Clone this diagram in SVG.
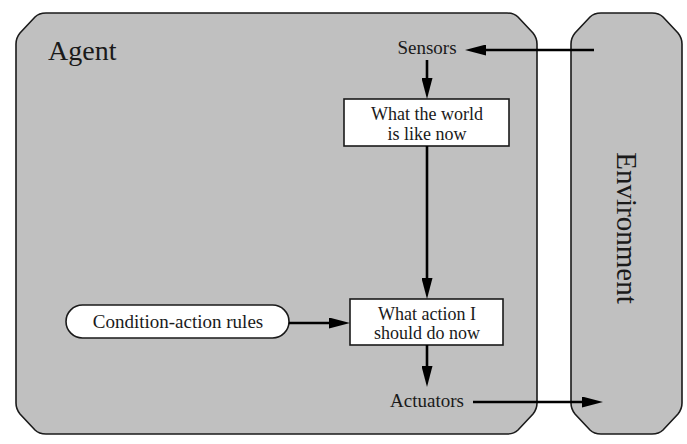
<svg xmlns="http://www.w3.org/2000/svg" width="687" height="444" viewBox="0 0 687 444">
<style>
.panel{fill:#c0c0c0;stroke:#1a1a1a;stroke-width:1.6}
.box{fill:#ffffff;stroke:#1a1a1a;stroke-width:1.6}
.t{font-family:"Liberation Serif","Times New Roman",serif;font-size:18px;fill:#1a1a1a;text-anchor:middle}
.big{font-family:"Liberation Serif","Times New Roman",serif;font-size:28px;fill:#1a1a1a}
.conn{stroke:#000;stroke-width:2.6;fill:none;marker-end:url(#ah)}
</style>
<defs>
<marker id="ah" markerUnits="userSpaceOnUse" markerWidth="21" markerHeight="11" viewBox="0 0 21 11" refX="0" refY="5.5" orient="auto">
<path d="M0,0 L21,5.5 L0,11 z" fill="#000"/>
</marker>
</defs>
<rect width="687" height="444" fill="#ffffff"/>
<g id="agent">
<path class="panel" d="M16,44 Q16,38 20,33 L35,17 Q39,13 46,13 L507,13 Q514,13 518,17 L533,33 Q537,38 537,44 L537,403 Q537,409 533,414 L518,430 Q514,434 507,434 L46,434 Q39,434 35,430 L20,414 Q16,409 16,403 Z"/>
<text class="big" x="48" y="60">Agent</text>
</g>
<g id="environment">
<path class="panel" d="M571,44 Q571,38 575,33 L590,17 Q594,13 601,13 L652,13 Q659,13 663,17 L678,33 Q682,38 682,44 L682,403 Q682,409 678,414 L663,430 Q659,434 652,434 L601,434 Q594,434 590,430 L575,414 Q571,409 571,403 Z"/>
<text class="big" transform="translate(617,228) rotate(90)" text-anchor="middle" style="font-size:29px">Environment</text>
</g>
<g id="sensors">
<text class="t" x="427" y="54" style="font-size:19px">Sensors</text>
</g>
<g id="world">
<rect class="box" x="344" y="99" width="165" height="47"/>
<text class="t" x="427" y="120">What the world</text>
<text class="t" x="427" y="140">is like now</text>
</g>
<g id="rules">
<rect class="box" x="66" y="305" width="223" height="33" rx="16.5" ry="16.5"/>
<text class="t" x="178" y="328" style="font-size:19px">Condition-action rules</text>
</g>
<g id="action">
<rect class="box" x="350" y="299" width="153" height="46"/>
<text class="t" x="427" y="320">What action I</text>
<text class="t" x="427" y="339">should do now</text>
</g>
<g id="actuators">
<text class="t" x="427" y="407" style="font-size:19px">Actuators</text>
</g>
<g id="connectors">
<line class="conn" x1="594" y1="50" x2="486" y2="50"/>
<line class="conn" x1="427" y1="60" x2="427" y2="78"/>
<line class="conn" x1="427" y1="146" x2="427" y2="278"/>
<line class="conn" x1="289" y1="323" x2="329" y2="323"/>
<line class="conn" x1="427" y1="345" x2="427" y2="366"/>
<line class="conn" x1="473" y1="402" x2="582" y2="402"/>
</g>
</svg>
